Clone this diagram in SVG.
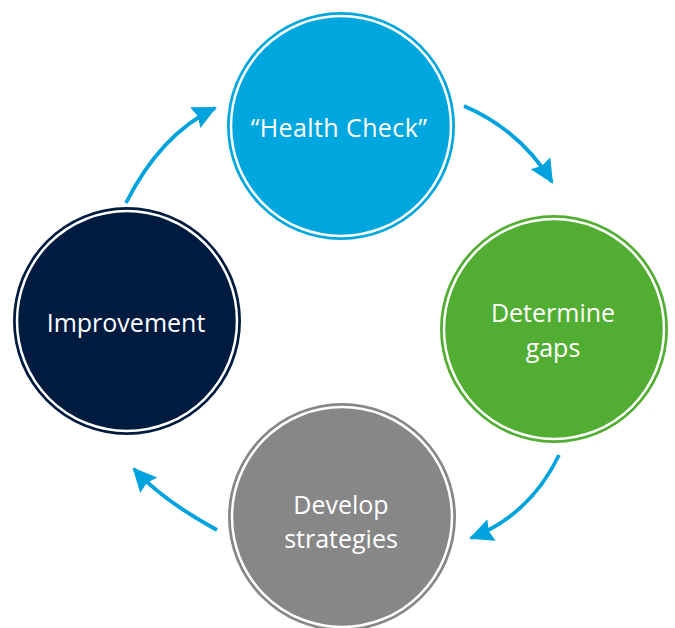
<svg xmlns="http://www.w3.org/2000/svg" width="675" height="628" viewBox="0 0 675 628">
  <style>
    .ring { fill: none; stroke: #ffffff; stroke-width: 2.5; }
    .label { font-family: "Open Sans", "Noto Sans", sans-serif; font-size: 25px; fill: #ffffff; text-anchor: middle; }
    .flow { fill: none; stroke: #00a3de; stroke-width: 3.8; marker-end: url(#head); }
  </style>
  <defs>
    <marker id="head" markerUnits="userSpaceOnUse" markerWidth="26" markerHeight="26" viewBox="0 0 26 26" refX="22" refY="13" orient="auto">
      <path d="M0,1.5 L24,13 L0,24.5 L3,13 Z" fill="#00a3de"/>
    </marker>
  </defs>

  <g id="connectors">
    <path class="flow" d="M464,106 Q520,130 552,182"/>
    <path class="flow" d="M559,455 Q530,515 471,538"/>
    <path class="flow" d="M217,530 Q162,500 134,469"/>
    <path class="flow" d="M126,203 Q160,135 215,108"/>
  </g>

  <g id="health-check">
    <circle cx="341" cy="126" r="114" fill="#00a7de"/>
    <circle class="ring" cx="341" cy="126" r="110"/>
    <text class="label" x="339" y="137" letter-spacing="0.4">“Health Check”</text>
  </g>

  <g id="determine-gaps">
    <circle cx="554" cy="329" r="114" fill="#52ae32"/>
    <circle class="ring" cx="554" cy="329" r="110"/>
    <text class="label" x="553" y="322">Determine</text>
    <text class="label" x="553" y="357">gaps</text>
  </g>

  <g id="develop-strategies">
    <circle cx="342" cy="517" r="114" fill="#878787"/>
    <circle class="ring" cx="342" cy="517" r="110"/>
    <text class="label" x="341" y="514">Develop</text>
    <text class="label" x="341" y="548">strategies</text>
  </g>

  <g id="improvement">
    <circle cx="127" cy="321" r="114" fill="#001b40"/>
    <circle class="ring" cx="127" cy="321" r="110"/>
    <text class="label" x="126" y="332">Improvement</text>
  </g>
</svg>
